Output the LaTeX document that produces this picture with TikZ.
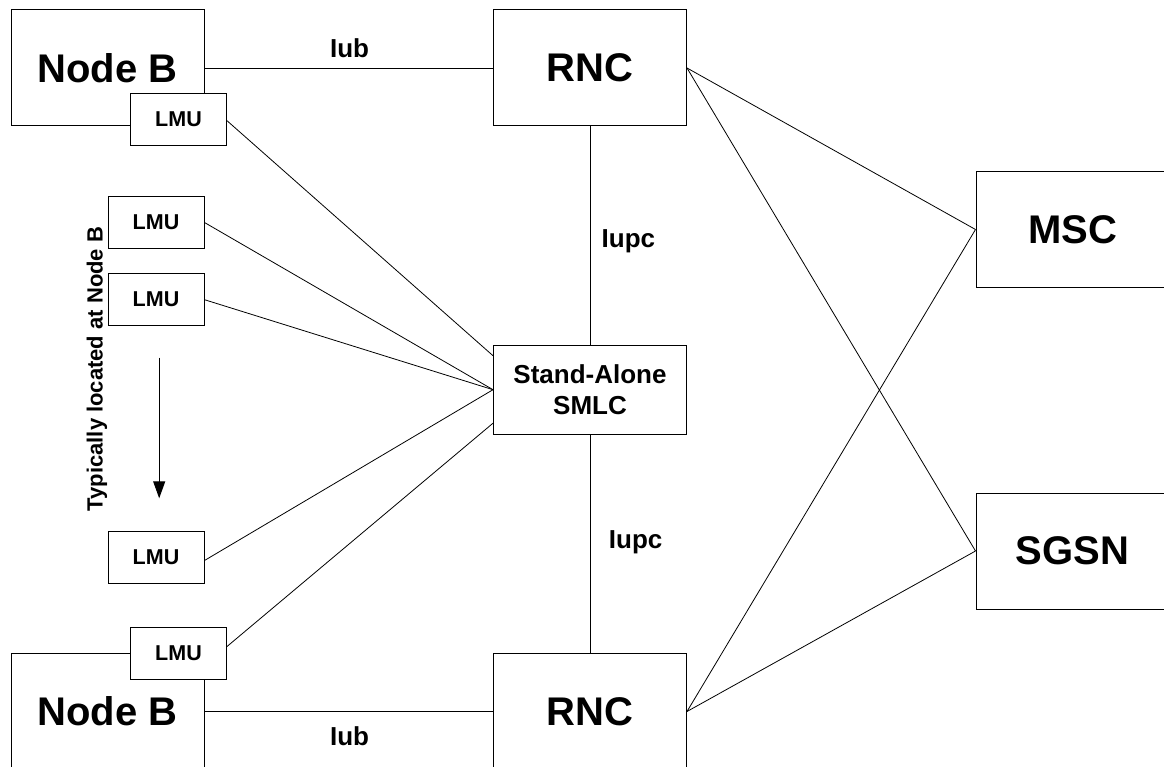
\documentclass[tikz,border=0pt]{standalone}
\usepackage{fontspec}
\setmainfont{Liberation Sans}
\usetikzlibrary{arrows.meta}
\begin{document}
\begin{tikzpicture}[x=1pt,y=-1pt,
  big/.style={draw,line width=1pt,fill=white,minimum width=193pt,minimum height=116pt,inner sep=0pt,
    font=\fontsize{40}{48}\selectfont\bfseries},
  lmu/.style={draw,line width=1pt,fill=white,minimum width=96pt,minimum height=52pt,inner sep=0pt,
    font=\fontsize{21.5}{26}\selectfont\bfseries},
  smlcbox/.style={draw,line width=1pt,fill=white,minimum width=193pt,minimum height=89pt,inner sep=0pt,
    align=center,font=\fontsize{26}{31}\selectfont\bfseries},
  lbl/.style={inner sep=0pt,font=\fontsize{26}{31}\selectfont\bfseries},
  conn/.style={line width=0.8pt}
]
\useasboundingbox (0,0) rectangle (1164,767);
\fill[white] (0,0) rectangle (1164,767);

\node[big] (nb1) at (107.5,68) {Node B};
\node[big] (rnc1) at (590,68) {RNC};
\node[big] (msc) at (1072.5,229.5) {MSC};
\node[big] (sgsn) at (1072.5,551) {SGSN};
\node[big] (nb2) at (107.5,711.5) {Node B};
\node[big] (rnc2) at (590,711.5) {RNC};
\node[smlcbox] (smlc) at (590,389.7) {Stand-Alone\\SMLC};

\node[lmu] (lmua) at (178.5,119.7) {LMU};
\node[lmu] (lmub) at (156,222.5) {LMU};
\node[lmu] (lmuc) at (156,299.7) {LMU};
\node[lmu] (lmud) at (156,557.5) {LMU};
\node[lmu] (lmue) at (178.5,653.5) {LMU};

% connectors
\draw[conn] (nb1.east) -- (rnc1.west);
\draw[conn] (nb2.east) -- (rnc2.west);
\draw[conn] (rnc1.south) -- (smlc.north);
\draw[conn] (smlc.south) -- (rnc2.north);
\draw[conn] (rnc1.east) -- (msc.west);
\draw[conn] (rnc1.east) -- (sgsn.west);
\draw[conn] (rnc2.east) -- (msc.west);
\draw[conn] (rnc2.east) -- (sgsn.west);
\draw[conn] ([yshift=-1pt]lmua.east) -- ([yshift=34pt]smlc.west);
\draw[conn] (lmub.east) -- (smlc.west);
\draw[conn] (lmuc.east) -- (smlc.west);
\draw[conn] ([yshift=-3pt]lmud.east) -- (smlc.west);
\draw[conn] ([yshift=7pt]lmue.east) -- ([yshift=-33.5pt]smlc.west);

% labels
\node[lbl] (iub1) at (349.6,48.5) {Iub};
\node[lbl] (iub2) at (349.6,736.7) {Iub};
\node[lbl] (iupc1) at (628.4,241.4) {Iupc};
\node[lbl] (iupc2) at (635.7,542.3) {Iupc};

% arrow and note
\coordinate (arrs) at (159.2,357.7);
\coordinate (arre) at (159.2,498.3);
\draw[line width=1pt,-{Triangle[length=17pt,width=12pt]}] (arrs) -- (arre);
\node[rotate=90,inner sep=0pt,font=\fontsize{22}{26}\selectfont\bfseries] (note) at (97,369) {Typically located at Node B};
\end{tikzpicture}
\end{document}
